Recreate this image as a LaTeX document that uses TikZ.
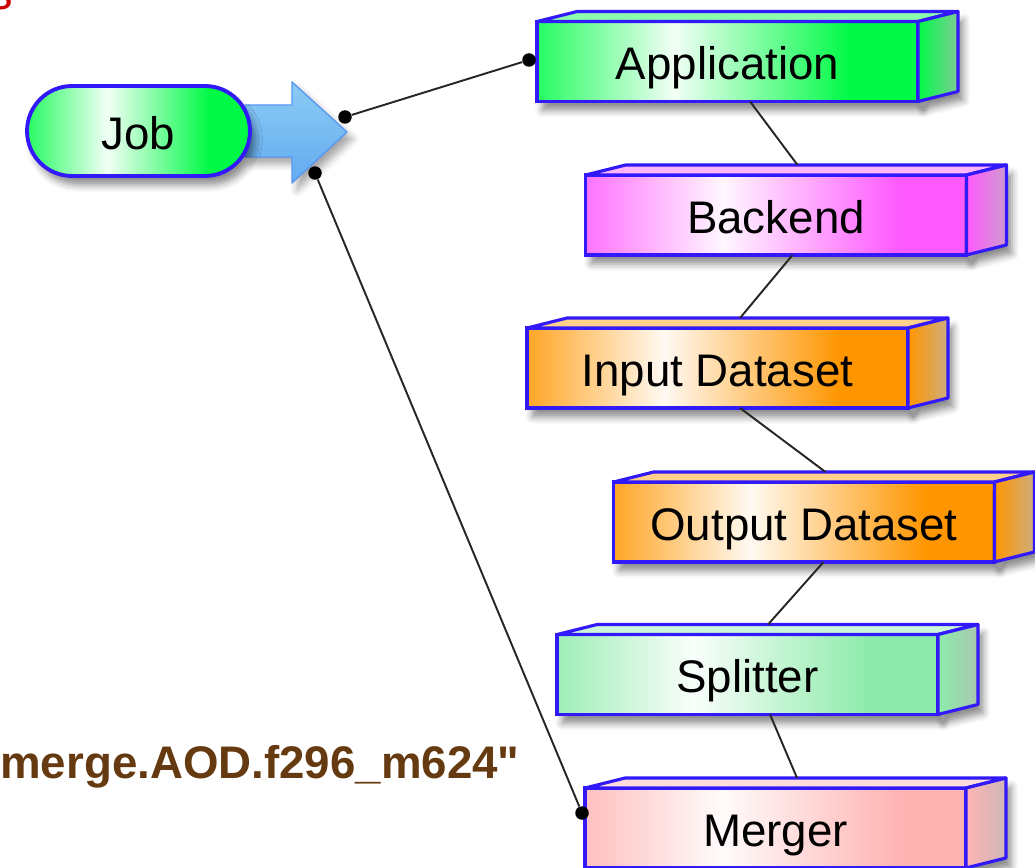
\documentclass[tikz,border=0pt]{standalone}
\usepackage{fontspec}
\setmainfont{Liberation Sans}
\newfontfamily\plainquotes{Liberation Sans}[Ligatures=TeXOff]
\usetikzlibrary{calc,shapes.misc,shadows.blur}

\definecolor{edgeblue}{RGB}{50,25,250}
\definecolor{appgreen}{RGB}{0,250,70}
\definecolor{backmagenta}{RGB}{255,90,255}
\definecolor{dataorange}{RGB}{255,150,0}
\definecolor{splitgreen}{RGB}{140,235,170}
\definecolor{mergepink}{RGB}{255,180,180}
\definecolor{arrowblue}{RGB}{110,190,240}
\definecolor{namebrown}{RGB}{102,58,16}
\definecolor{titlered}{RGB}{200,0,0}

\colorlet{facecol}{white}
\pgfdeclarehorizontalshading[facecol]{faceshade}{100bp}{color(0bp)=(facecol!85!white); color(25bp)=(facecol!85!white); color(43bp)=(facecol!5!white); color(66bp)=(facecol); color(100bp)=(facecol)}

% top and side of a box
\newcommand{\prismfaces}[1]{%
  \draw[draw=edgeblue, line width=1.8pt, line join=round, fill=facecol!45!white]
    (#1.north west) -- ++(40,-10) -- ($(#1.north east)+(40,-10)$) -- (#1.north east) -- cycle;
  \draw[draw=edgeblue, line width=1.8pt, line join=round, left color=facecol, right color=facecol!45!gray!70!white,
    blur shadow={shadow xshift=3pt, shadow yshift=-5pt, shadow blur radius=4pt, shadow opacity=45}]
    (#1.north east) -- ++(40,-10) -- ($(#1.south east)+(40,-10)$) -- (#1.south east) -- cycle;
}

\begin{document}
\begin{tikzpicture}[x=0.02cm, y=-0.02cm,
    boxface/.style={draw=edgeblue, line width=2.2pt, outer sep=0pt, inner sep=0pt,
      minimum width=7.62cm, minimum height=1.6cm, shade, shading=faceshade,
      font=\fontsize{26}{30}\selectfont, text height=20.8pt, text depth=0pt,
      blur shadow={shadow xshift=3pt, shadow yshift=-5pt, shadow blur radius=4pt, shadow opacity=45}},
    joint/.style={circle, fill=black, inner sep=0pt, minimum size=0.27cm},
    link/.style={draw=black!85, line width=1.1pt},
  ]

  \useasboundingbox (0,0) rectangle (1035,868);

  %Texts
  \node[font=\fontsize{28}{32}\selectfont, text=titlered, anchor=base east] (title) at (19,10) {s};
  \node[font=\fontsize{26}{30}\selectfont\plainquotes\bfseries, text=namebrown, anchor=base west, inner sep=0pt] (dsname) at (0,778) {merge.AOD.f296\_m624"};

  %Arrow
  \draw[draw=arrowblue!80!blue, line width=0.8pt, line join=round, top color=arrowblue!80!white, bottom color=arrowblue!90!blue,
    blur shadow={shadow xshift=3pt, shadow yshift=-4pt, shadow blur radius=4pt, shadow opacity=35}]
    (245,105) -- (292,105) -- (292,82) -- (347,132) -- (292,183) -- (292,157) -- (245,157) -- cycle;

  %Nodes
  \colorlet{facecol}{appgreen}
  \node[boxface, rounded rectangle, minimum width=4.46cm, minimum height=1.8cm] (job) at (138.5,131) {Job};

  \node[boxface] (app) at (727.5,61.5) {Application};
  \prismfaces{app}

  \colorlet{facecol}{backmagenta}
  \node[boxface] (back) at (776,215) {Backend};
  \prismfaces{back}

  \colorlet{facecol}{dataorange}
  \node[boxface] (inp) at (717.5,368) {Input Dataset};
  \prismfaces{inp}

  \colorlet{facecol}{dataorange}
  \node[boxface] (out) at (804,522) {Output Dataset};
  \prismfaces{out}

  \colorlet{facecol}{splitgreen}
  \node[boxface] (spl) at (747.5,674.5) {Splitter};
  \prismfaces{spl}

  \colorlet{facecol}{mergepink}
  \node[boxface] (mer) at (775.5,828) {Merger};
  \prismfaces{mer}

  \node[joint] (tipup) at (345,117) {};
  \node[joint] (tiplow) at (315,173) {};
  \node[joint] (appin) at (529,60) {};
  \node[joint] (merin) at (582,813) {};

  %Lines
  \draw[link] (tipup) -- (appin);
  \draw[link] (tiplow) -- (merin);
  \draw[link] ($(app.south west)+(213,0)$) -- ($(back.north west)+(212,-10)$);
  \draw[link] ($(back.south west)+(207,0)$) -- ($(inp.north west)+(213,-10)$);
  \draw[link] ($(inp.south west)+(213,0)$) -- ($(out.north west)+(212,-10)$);
  \draw[link] ($(out.south west)+(210,0)$) -- ($(spl.north west)+(211,-10)$);
  \draw[link] ($(spl.south west)+(213,0)$) -- ($(mer.north west)+(212,-10)$);

\end{tikzpicture}
\end{document}
